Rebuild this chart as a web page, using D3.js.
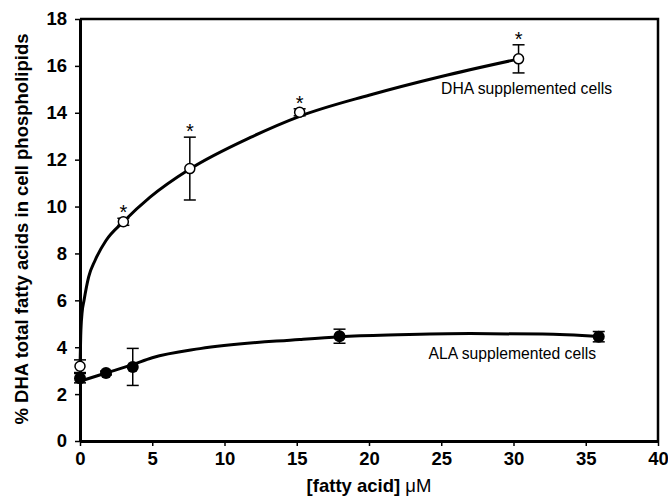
<!DOCTYPE html>
<html>
<head>
<meta charset="utf-8">
<script src="https://cdn.jsdelivr.net/npm/d3@7"></script>
<style>
	body { margin: 0; background: #fff; }
	svg text { font-family: "Liberation Sans", Arial, sans-serif; }
</style>
</head>
<body>
<div id="chart"></div>
<script>
// DHA content of cell phospholipids vs fatty acid concentration.

// measured points: [x uM, mean %, sd]
let dhaX 	= [ 0, 3.0, 7.6, 15.2, 30.35 ] ;
let dhaY 	= [ 3.19, 9.35, 11.62, 14.02, 16.3 ] ;
let dhaErr 	= [ 0.27, 0.15, 1.34, 0.15, 0.6 ] ;
let dhaStar = [ false, true, true, true, true ] ;

let alaX 	= [ 0, 1.8, 3.65, 17.96, 35.9 ] ;
let alaY 	= [ 2.68, 2.9, 3.16, 4.47, 4.45 ] ;
let alaErr 	= [ 0.2, 0.08, 0.79, 0.3, 0.22 ] ;

// fitted curves
let dhaFitX = [ 0, 0.05, 0.14, 0.28, 0.6, 1.04, 1.8, 3, 4.85, 7.6, 11.8, 15.2, 20, 25, 30.4 ] ;
let dhaFitY = [ 3.1, 4.5, 5.45, 6.0, 7.0, 7.7, 8.55, 9.35, 10.4, 11.6, 12.95, 13.85, 14.75, 15.55, 16.3 ] ;
let alaFitX = [ 0, 1.8, 3.6, 5, 8.3, 15.2, 18, 22, 27, 32, 36 ] ;
let alaFitY = [ 2.55, 2.9, 3.25, 3.55, 3.94, 4.33, 4.45, 4.53, 4.58, 4.56, 4.45 ] ;

let xTicks 	= [ 0, 5, 10, 15, 20, 25, 30, 35, 40 ] ;
let yTicks 	= [ 0, 2, 4, 6, 8, 10, 12, 14, 16, 18 ] ;

let margin 	= { 'top': 19, 'right': 10, 'bottom': 59, 'left': 80 } ;
let svgwidth 	= 668 ;
let svgheight 	= 500 ;
let width 	= svgwidth  - margin.left - margin.right ;
let height 	= svgheight - margin.top  - margin.bottom ;

let svg = d3.select("#chart").append("svg")
			.attr("width", svgwidth)
			.attr("height", svgheight) ;

let g = svg.append("g").attr("transform", "translate(" + margin.left + "," + margin.top + ")") ;

let x = d3.scaleLinear().domain([ 0, 40 ]).range([ 0, width ]) ;
let y = d3.scaleLinear().domain([ 0, 18 ]).range([ height, 0 ]) ;

// frame top / right
g.append("path")
	.attr("d", "M0,0H" + width + "V" + height)
	.attr("fill", "none")
	.attr("stroke", "#000")
	.attr("stroke-width", 2.5) ;

// axes
let xAxis = g.append("g")
	.attr("transform", "translate(0," + height + ")")
	.call( d3.axisBottom(x).tickValues(xTicks).tickSize(5).tickPadding(6).tickSizeOuter(0) ) ;

let yAxis = g.append("g")
	.call( d3.axisLeft(y).tickValues(yTicks).tickSize(5).tickPadding(8).tickSizeOuter(0) ) ;

[ xAxis, yAxis ].forEach( a => {
	a.select(".domain").attr("stroke-width", 3) ;
	a.selectAll(".tick line").attr("stroke-width", 1.5) ;
	a.selectAll(".tick text")
		.attr("font-size", 18.5)
		.attr("font-weight", "bold")
		.attr("fill", "#000")
		.style("font-family", "'Liberation Sans', Arial, sans-serif") ;
});

// axis titles
let xt = svg.append("text")
	.attr("x", margin.left + width / 2)
	.attr("y", 492)
	.attr("text-anchor", "middle")
	.attr("font-size", 18.5)
	.attr("font-weight", "bold") ;
xt.append("tspan").text("[fatty acid] ") ;
xt.append("tspan").attr("font-weight", "normal").text("\u03bcM") ;

svg.append("text")
	.attr("transform", "translate(28,229) rotate(-90)")
	.attr("text-anchor", "middle")
	.attr("font-size", 18.5)
	.attr("font-weight", "bold")
	.text("% DHA total fatty acids in cell phospholipids") ;

// fitted lines
let line = d3.line()
	.x( d => x(d[0]) )
	.y( d => y(d[1]) )
	.curve( d3.curveMonotoneX ) ;

g.append("path")
	.datum( d3.zip(dhaFitX, dhaFitY) )
	.attr("fill", "none")
	.attr("stroke", "#000")
	.attr("stroke-width", 3)
	.attr("d", line) ;

g.append("path")
	.datum( d3.zip(alaFitX, alaFitY) )
	.attr("fill", "none")
	.attr("stroke", "#000")
	.attr("stroke-width", 3)
	.attr("d", line) ;

// error bars
let drawErr = ( xs, ys, es ) => {
	xs.forEach( (xv, i) => {
		let cx = x(xv), top = y(ys[i] + es[i]), bot = y(ys[i] - es[i]) ;
		let e = g.append("g").attr("stroke", "#000").attr("stroke-width", 1.5) ;
		e.append("line").attr("x1", cx).attr("x2", cx).attr("y1", top).attr("y2", bot) ;
		e.append("line").attr("x1", cx - 6).attr("x2", cx + 6).attr("y1", top).attr("y2", top) ;
		e.append("line").attr("x1", cx - 6).attr("x2", cx + 6).attr("y1", bot).attr("y2", bot) ;
	});
} ;

drawErr( dhaX, dhaY, dhaErr ) ;
drawErr( alaX, alaY, alaErr ) ;

// markers
g.selectAll(".dha").data( d3.range(dhaX.length) ).enter().append("circle")
	.attr("cx", i => x(dhaX[i]))
	.attr("cy", i => y(dhaY[i]))
	.attr("r", 5)
	.attr("fill", "#fff")
	.attr("stroke", "#000")
	.attr("stroke-width", 1.5) ;

g.selectAll(".ala").data( d3.range(alaX.length) ).enter().append("circle")
	.attr("cx", i => x(alaX[i]))
	.attr("cy", i => y(alaY[i]))
	.attr("r", 6)
	.attr("fill", "#000") ;

// significance stars
g.selectAll(".star").data( d3.range(dhaX.length).filter( i => dhaStar[i] ) ).enter().append("text")
	.attr("x", i => x(dhaX[i]))
	.attr("y", i => y(dhaY[i] + dhaErr[i]) + 1)
	.attr("text-anchor", "middle")
	.attr("font-size", 20)
	.text("*") ;

// series labels
g.append("text")
	.attr("x", x(40) - 46)
	.attr("y", y(14.8))
	.attr("text-anchor", "end")
	.attr("font-size", 15.7)
	.text("DHA supplemented cells") ;

g.append("text")
	.attr("x", x(40) - 62)
	.attr("y", y(3.48))
	.attr("text-anchor", "end")
	.attr("font-size", 15.7)
	.text("ALA supplemented cells") ;
</script>
</body>
</html>
